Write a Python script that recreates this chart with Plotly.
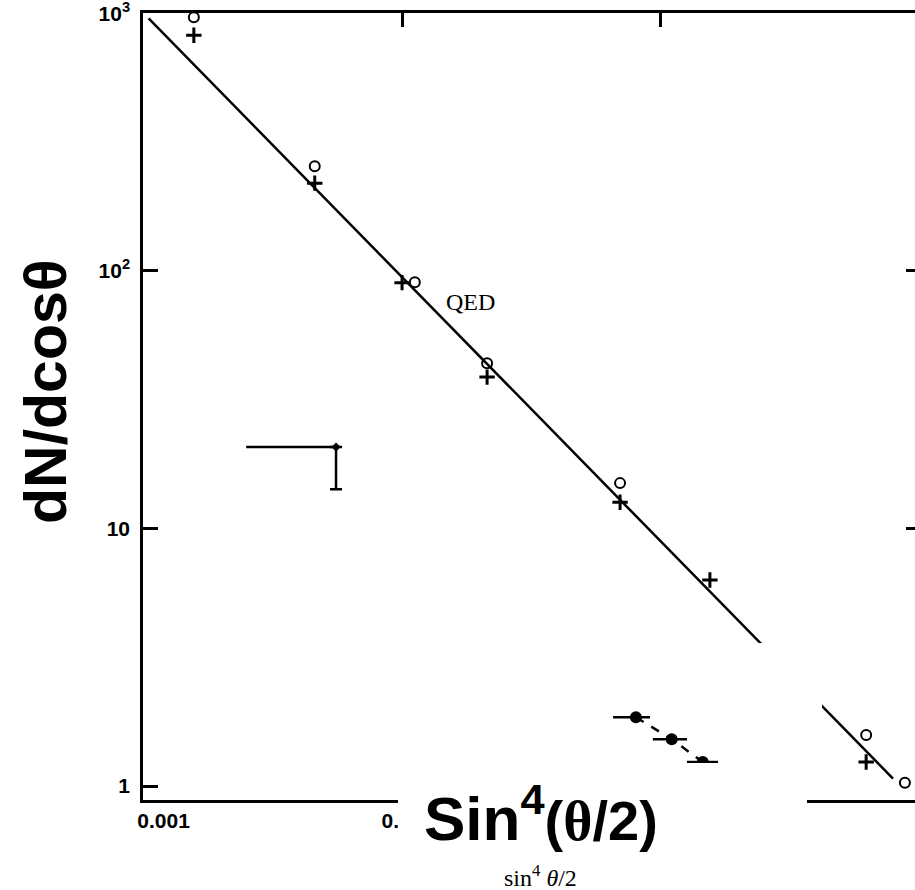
import math
import plotly.graph_objects as go

# ---- data ----
x_open = [0.00157, 0.0046, 0.0112, 0.0213, 0.0695, 0.62, 0.875]
y_open = [965, 255, 90.4, 43.8, 15.0, 1.58, 1.03]

x_plus = [0.00157, 0.0046, 0.0100, 0.0213, 0.0695, 0.1545, 0.62, 0.86]
y_plus = [822, 219, 90, 38.7, 12.65, 6.31, 1.24, 0.883]

x_qed = [0.00105, 0.787]
y_qed = [956, 1.07]

x_filled = [0.080, 0.110, 0.145]
y_filled = [1.85, 1.52, 1.24]
x_filled_lo = [0.0653, 0.093, 0.126]
x_filled_hi = [0.0907, 0.126, 0.166]

x_err = [0.00556]
y_err = [20.7]
x_err_lo = [0.0025]
y_err_lo = [14.2]

y_tickvals = [1, 10, 100, 1000]
y_ticktext = ["1", "10", "10<sup>2</sup>", "10<sup>3</sup>"]
x_tickvals = [0.001, 0.01, 0.1]
x_ticktext = ["\u00a0" * 7 + "0.001", "0.01", ""]

fig = go.Figure()

fig.add_trace(go.Scatter(x=x_qed, y=y_qed, mode="lines",
                         line=dict(color="black", width=2.5), showlegend=False))

fig.add_trace(go.Scatter(
    x=x_filled, y=y_filled, mode="lines+markers",
    line=dict(color="black", width=2.5, dash="dash"),
    marker=dict(color="black", size=12),
    error_x=dict(type="data", symmetric=False,
                 array=[h - x for h, x in zip(x_filled_hi, x_filled)],
                 arrayminus=[x - l for l, x in zip(x_filled_lo, x_filled)],
                 color="black", thickness=2.5, width=0),
    showlegend=False))

fig.add_trace(go.Scatter(
    x=x_err, y=y_err, mode="markers",
    marker=dict(color="black", size=7, symbol="diamond"),
    error_x=dict(type="data", symmetric=False, array=[0],
                 arrayminus=[x - l for l, x in zip(x_err_lo, x_err)],
                 color="black", thickness=2.5, width=0),
    error_y=dict(type="data", symmetric=False, array=[0],
                 arrayminus=[y - l for l, y in zip(y_err_lo, y_err)],
                 color="black", thickness=2.5, width=6),
    showlegend=False))

fig.add_trace(go.Scatter(
    x=x_open, y=y_open, mode="markers", cliponaxis=False,
    marker=dict(symbol="circle-open", size=10, color="black",
                line=dict(color="black", width=2)),
    showlegend=False))

fig.add_trace(go.Scatter(
    x=x_plus, y=y_plus, mode="markers", cliponaxis=False,
    marker=dict(symbol="cross-thin", size=11, color="black",
                line=dict(color="black", width=3)),
    showlegend=False))

# dummy trace to display right-hand ticks
fig.add_trace(go.Scatter(x=[], y=[], yaxis="y2", showlegend=False))

tick_font = dict(family="Liberation Sans, Arial, sans-serif", size=21, color="black",
                 weight="bold")

fig.update_layout(
    template="none",
    width=915, height=890,
    margin=dict(l=143, r=0, t=13, b=90, pad=0),
    paper_bgcolor="white", plot_bgcolor="white",
    xaxis=dict(type="log", range=[-3.0005, -0.019], showgrid=False, zeroline=False,
               showline=True, linecolor="black", linewidth=2.5, mirror="ticks",
               ticks="inside", ticklen=14, tickwidth=2.5, tickcolor="black",
               tickvals=x_tickvals, ticktext=x_ticktext, tickfont=tick_font,
               ticklabeloverflow="allow", automargin=False),
    yaxis=dict(type="log", range=[-0.054, 3.001], showgrid=False, zeroline=False,
               showline=True, linecolor="black", linewidth=2.5, mirror=False,
               ticks="inside", ticklen=15, tickwidth=2.5, tickcolor="black",
               tickvals=y_tickvals, ticktext=y_ticktext, tickfont=tick_font,
               ticklabelstandoff=6, ticklabeloverflow="allow", automargin=False),
    yaxis2=dict(type="log", range=[-0.054, 3.001], overlaying="y", side="right",
                anchor="x", showgrid=False, zeroline=False, showline=False,
                ticks="inside", ticklen=9, tickwidth=2.5, tickcolor="black",
                tickvals=[10, 100], showticklabels=False, automargin=False),
    shapes=[
        dict(type="rect", xref="paper", yref="paper", x0=0.3303, x1=0.8601,
             y0=-0.0737, y1=0.0470, fillcolor="white", line=dict(width=0),
             layer="above"),
        dict(type="rect", xref="paper", yref="paper", x0=0.6956, x1=0.8795,
             y0=0.1042, y1=0.1995, fillcolor="white", line=dict(width=0),
             layer="above"),
    ],
    annotations=[
        dict(text="QED", xref="paper", yref="paper", x=0.4236, y=0.6328,
             xanchor="center", yanchor="middle", showarrow=False,
             font=dict(family="Liberation Serif, Times New Roman, serif",
                       size=24, color="black")),
        dict(text="<b>dN/dcosθ</b>", xref="paper", yref="paper", x=-0.1257, y=0.5197,
             xanchor="center", yanchor="middle", textangle=-90, showarrow=False,
             font=dict(family="Liberation Sans, Arial, sans-serif", size=59, color="black")),
        dict(text="<b>Sin<sup>4</sup><span style='font-size:56px'>(<span style='font-family:Liberation Serif'>θ</span>/2)</span></b>",
             xref="paper", yref="paper", x=0.5155, y=-0.018,
             xanchor="center", yanchor="middle", showarrow=False,
             font=dict(family="Liberation Sans, Arial, sans-serif", size=62, color="black")),
        dict(text="sin<sup>4</sup> <i>θ</i>/2", xref="paper", yref="paper",
             x=0.5155, y=-0.0966, xanchor="center", yanchor="middle", showarrow=False,
             font=dict(family="Liberation Serif, Times New Roman, serif", size=24, color="black")),
    ],
)

fig.write_html("out.html")
